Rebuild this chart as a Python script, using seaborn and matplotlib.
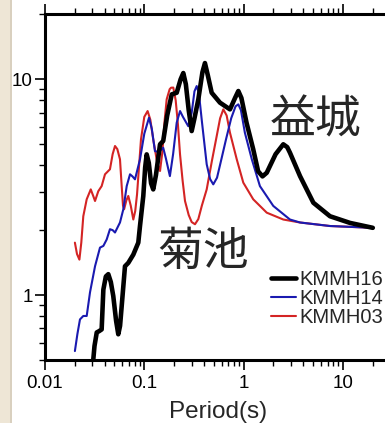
import numpy as np
import pandas as pd
import matplotlib
matplotlib.use("Agg")
import matplotlib.pyplot as plt
from matplotlib.patches import Rectangle
from matplotlib.lines import Line2D
from matplotlib.ticker import LogLocator, NullFormatter, FixedLocator, FixedFormatter
import seaborn as sns

# Response spectra (period in s) for three stations
period_16 = [0.0300, 0.0315, 0.0332, 0.0350, 0.0372, 0.0387, 0.0410, 0.0434, 0.0460,
             0.0487, 0.0520, 0.0547, 0.0570, 0.0592, 0.0639, 0.0690, 0.0775, 0.0870,
             0.0905, 0.0977, 0.1020, 0.1057, 0.1110, 0.1170, 0.123, 0.131, 0.144,
             0.155, 0.170, 0.189, 0.212, 0.232, 0.247, 0.262, 0.280, 0.300, 0.320,
             0.350, 0.385, 0.408, 0.435, 0.477, 0.578, 0.729, 0.820, 0.885, 0.950,
             1.07, 1.25, 1.40, 1.55, 1.71, 2.10, 2.51, 2.75, 2.93, 3.70, 5.04,
             7.41, 11.8, 20.0]
sa_16 = [0.45, 0.58, 0.671, 0.68, 0.693, 1.06, 1.22, 1.25, 1.15,
         0.99, 0.76, 0.658, 0.72, 0.889, 1.36, 1.41, 1.54, 1.75,
         2.09, 2.88, 3.9, 4.49, 4.1, 3.3, 3.09, 3.6, 5.00,
         5.18, 6.8, 8.52, 8.67, 10.0, 10.7, 9.5, 7.2, 5.76, 6.6,
         8.08, 10.8, 11.9, 10.5, 8.67, 7.80, 7.26, 8.2, 8.83, 8.2,
         6.30, 4.74, 3.75, 3.55, 3.69, 4.5, 5.00, 4.85, 4.57, 3.56, 2.68,
         2.32, 2.16, 2.05]

period_14 = [0.0200, 0.0212, 0.0225, 0.0243, 0.0263, 0.0284, 0.0319, 0.0358, 0.0387,
             0.0418, 0.0451, 0.0480, 0.0507, 0.0569, 0.0615, 0.0665, 0.0718, 0.0760,
             0.0806, 0.0905, 0.100, 0.1115, 0.119, 0.128, 0.140, 0.155, 0.165,
             0.181, 0.195, 0.212, 0.229, 0.245, 0.277, 0.300, 0.320, 0.337, 0.355,
             0.380, 0.425, 0.460, 0.495, 0.540, 0.600, 0.665, 0.750, 0.830, 0.885,
             0.940, 1.03, 1.21, 1.46, 1.99, 2.93, 3.70, 7.41, 20.0]
sa_14 = [0.55, 0.66, 0.771, 0.80, 0.80, 1.03, 1.36, 1.66, 1.69,
         1.81, 2.02, 2.00, 1.95, 2.17, 2.50, 3.20, 3.63, 3.55,
         3.44, 4.26, 5.6, 6.64, 5.9, 4.65, 4.6, 4.82, 4.3,
         3.56, 4.5, 6.3, 7.13, 6.7, 6.07, 7.0, 8.8, 9.31, 8.6,
         6.4, 4.04, 3.45, 3.26, 3.5, 4.3, 5.27, 6.6, 7.5, 7.66,
         7.2, 5.66, 4.26, 3.20, 2.59, 2.24, 2.17, 2.09, 2.05]

period_03 = [0.0200, 0.0210, 0.0222, 0.0232, 0.0243, 0.0263, 0.0289, 0.0306, 0.0319,
             0.0344, 0.0372, 0.0402, 0.0451, 0.0480, 0.0507, 0.0535, 0.0569, 0.0592,
             0.0610, 0.0626, 0.0660, 0.0690, 0.0730, 0.0775, 0.0810, 0.0845, 0.0926,
             0.100, 0.108, 0.115, 0.123, 0.135, 0.144, 0.152, 0.160, 0.168, 0.180,
             0.186, 0.196, 0.207, 0.218, 0.229, 0.243, 0.257, 0.280, 0.300, 0.324,
             0.350, 0.380, 0.425, 0.480, 0.536, 0.580, 0.625, 0.675, 0.729, 0.853,
             0.993, 1.25, 1.71, 2.51, 3.70, 7.41, 20.0]
sa_03 = [1.75, 1.55, 1.46, 1.75, 2.32, 2.78, 3.09, 2.88, 2.73,
         3.03, 3.20, 3.63, 3.83, 4.5, 4.91, 4.75, 4.26, 3.20,
         2.60, 2.50, 2.75, 2.88, 2.6, 2.24, 2.45, 2.93, 5.27,
         6.7, 7.13, 6.5, 5.27, 4.1, 3.76, 4.6, 6.4, 8.08, 9.0,
         9.15, 9.16, 8.0, 6.2, 4.49, 3.4, 2.73, 2.35, 2.18, 2.13,
         2.25, 2.6, 3.09, 4.2, 5.46, 6.6, 7.26, 6.8, 5.66, 4.26,
         3.32, 2.78, 2.41, 2.24, 2.17, 2.09, 2.05]

stations = ["KMMH16", "KMMH14", "KMMH03"]
colors = ["#000000", "#1a1ab0", "#d42424"]
widths = [3.3, 1.5, 1.5]

df = pd.concat([
    pd.DataFrame({"period": period_16, "sa": sa_16, "station": "KMMH16"}),
    pd.DataFrame({"period": period_14, "sa": sa_14, "station": "KMMH14"}),
    pd.DataFrame({"period": period_03, "sa": sa_03, "station": "KMMH03"}),
])

sns.set_style("ticks")
plt.rcParams["font.family"] = ["Liberation Sans", "Noto Sans CJK JP"]

W, H = 385, 423
fig = plt.figure(figsize=(W / 100, H / 100), dpi=100)
fig.patch.set_facecolor("white")

# beige window strip on the left edge
fig.patches.append(Rectangle((0, 0), 10 / W, 1, transform=fig.transFigure,
                             facecolor="#eee6d6", edgecolor="none", zorder=0))
fig.patches.append(Rectangle((10 / W, 0), 2 / W, 1, transform=fig.transFigure,
                             facecolor="#d9d0bf", edgecolor="none", zorder=0))

xlo, xhi = 0.01, 30.0
ylo, yhi = 0.5, 20.0
ax_w = 99.3 * np.log10(xhi / xlo) / W
ax_h = 215.7 * np.log10(yhi / ylo) / H
ax = fig.add_axes([45 / W, 63 / H, ax_w, ax_h])

# black drawn last so it sits on top
for st, c, lw in [("KMMH03", colors[2], widths[2]),
                  ("KMMH14", colors[1], widths[1]),
                  ("KMMH16", colors[0], widths[0])]:
    sns.lineplot(data=df[df["station"] == st], x="period", y="sa", ax=ax,
                 color=c, linewidth=lw, sort=False, estimator=None,
                 solid_joinstyle="round", solid_capstyle="round", legend=False)

ax.set_xscale("log")
ax.set_yscale("log")
ax.set_xlim(xlo, xhi)
ax.set_ylim(ylo, yhi)

ax.xaxis.set_major_locator(FixedLocator([0.01, 0.1, 1, 10]))
ax.xaxis.set_major_formatter(FixedFormatter(["0.01", "0.1", "1", "10"]))
ax.xaxis.set_minor_locator(LogLocator(base=10, subs=np.arange(2, 10)))
ax.xaxis.set_minor_formatter(NullFormatter())
ax.yaxis.set_major_locator(FixedLocator([1, 10]))
ax.yaxis.set_major_formatter(FixedFormatter(["1", "10"]))
ax.yaxis.set_minor_locator(LogLocator(base=10, subs=np.arange(2, 10)))
ax.yaxis.set_minor_formatter(NullFormatter())

for side in ["left", "bottom", "top"]:
    ax.spines[side].set_visible(True)
    ax.spines[side].set_linewidth(2.2)
    ax.spines[side].set_color("black")
ax.spines["right"].set_visible(False)

ax.tick_params(which="both", direction="out", top=True, right=False,
               labelsize=13.5, colors="black")
ax.tick_params(axis="y", which="both", pad=2)
ax.tick_params(axis="x", which="both", pad=4)
ax.tick_params(which="major", length=7, width=1.2)
ax.tick_params(which="minor", length=4, width=1.0)

ax.set_xlabel("Period(s)", fontsize=17.5, labelpad=6)
ax.set_ylabel("")

ax.text(5.36, 6.46, "益城", fontsize=33, ha="center", va="center",
        family=["Noto Sans CJK JP", "DejaVu Sans"])
ax.text(0.39, 1.59, "菊池", fontsize=33, ha="center", va="center",
        family=["Noto Sans CJK JP", "DejaVu Sans"])

handles = [Line2D([], [], color=c, linewidth=lw) for c, lw in zip(colors, [3.3, 1.5, 1.5])]
ax.legend(handles, stations, loc="upper left", bbox_to_anchor=(271 / W, 1 - 270 / H),
          bbox_transform=fig.transFigure, frameon=False, fontsize=14.5,
          handlelength=1.25, handletextpad=0.15, labelspacing=0.0,
          borderaxespad=0, borderpad=0)

fig.savefig("out.png", dpi=100)
